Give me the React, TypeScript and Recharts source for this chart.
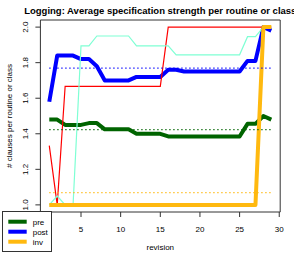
import { LineChart, Line, XAxis, YAxis, ReferenceLine, ReferenceArea } from "recharts"

const revisions = [1, 2, 3, 4, 5, 6, 7, 8, 9, 10, 11, 12, 13, 14, 15, 16, 17, 18, 19, 20, 21, 22, 23, 24, 25, 26, 27, 28, 29]

const pre = [1.48, 1.48, 1.45, 1.45, 1.45, 1.46, 1.46, 1.425, 1.425, 1.425, 1.425, 1.4, 1.4, 1.4, 1.4,
  1.385, 1.385, 1.385, 1.385, 1.385, 1.385, 1.385, 1.385, 1.385, 1.385, 1.456, 1.456, 1.5, 1.48]

const post = [1.58, 1.84, 1.84, 1.84, 1.82, 1.82, 1.78, 1.7, 1.7, 1.7, 1.7, 1.72, 1.72, 1.72, 1.72,
  1.76, 1.76, 1.75, 1.75, 1.75, 1.75, 1.75, 1.75, 1.75, 1.75, 1.81, 1.81, 2.0, 1.98]

const inv = [1, 1, 1, 1, 1, 1, 1, 1, 1, 1, 1, 1, 1, 1, 1, 1, 1, 1, 1, 1, 1, 1, 1, 1, 1, 1, 1, 2, 2]

const redSeries = [1.333, 1, 1.667, 1.667, 1.667, 1.667, 1.667, 1.667, 1.667, 1.667, 1.667, 1.667, 1.667, 1.667, 1.667,
  2, 2, 2, 2, 2, 2, 2, 2, 2, 2, 2, 2, 2, 2]

const aquaSeries = [1, 1.05, 1, 1, 1.894, 1.894, 1.95, 1.95, 1.95, 1.95, 1.95, 1.894, 1.894, 1.894, 1.894,
  1.894, 1.844, 1.844, 1.844, 1.844, 1.844, 1.844, 1.844, 1.844, 1.844, 1.946, 1.946, 2, 2]

// the 0 tick sits under the legend box, so it is left out
const xTicks = [5, 10, 15, 20, 25, 30]
const yTicks = [1.0, 1.2, 1.4, 1.6, 1.8, 2.0]

const legendItems = [
  { name: "pre", color: "#006400" },
  { name: "post", color: "#0000ff" },
  { name: "inv", color: "#ffb90f" },
]

const data = revisions.map((r, i) => ({
  revision: r,
  pre: pre[i],
  post: post[i],
  inv: inv[i],
  red: redSeries[i],
  aqua: aquaSeries[i],
}))

const mean = (a: number[]) => a.reduce((s, v) => s + v, 0) / a.length

const FONT = "'Liberation Sans', Arial, sans-serif"
const first = revisions[0]
const last = revisions[revisions.length - 1]

// plot box: x 40.4..280.2, y 20..212
const Y_AXIS_W = 30
const X_AXIS_H = 30

const XTick = (props: any) => (
  <text x={props.x} y={231.5} textAnchor="middle" fontSize={8} fontFamily={FONT} fill="#000">
    {props.payload.value}
  </text>
)

const YTick = (props: any) => (
  <text
    x={28.5}
    y={props.y}
    transform={`rotate(-90, 28.5, ${props.y})`}
    textAnchor="middle"
    fontSize={8}
    fontFamily={FONT}
    fill="#000"
  >
    {Number(props.payload.value).toFixed(1)}
  </text>
)

function avgLine(values: number[], color: string, key: string) {
  const m = mean(values)
  return (
    <ReferenceLine
      key={key}
      segment={[{ x: first, y: m }, { x: last, y: m }]}
      stroke={color}
      strokeWidth={1.3}
      strokeDasharray="1.3 2.7"
      ifOverflow="visible"
    />
  )
}

export default function App() {
  return (
    <div style={{ position: "absolute", left: 0, top: 0, width: 294, height: 254, background: "#fff" }}>
      <LineChart
        width={294}
        height={254}
        data={data}
        margin={{ top: 20, right: 13.8, bottom: 42 - X_AXIS_H, left: 40.4 - Y_AXIS_W }}
      >
        <XAxis
          dataKey="revision"
          type="number"
          domain={[-0.12, 30.12]}
          ticks={xTicks}
          height={X_AXIS_H}
          axisLine={false}
          tickSize={5}
          tickLine={{ stroke: "#333" }}
          tick={XTick}
          interval={0}
          allowDataOverflow
        />
        <YAxis
          type="number"
          domain={[0.96, 2.04]}
          ticks={yTicks}
          width={Y_AXIS_W}
          axisLine={false}
          tickSize={5}
          tickLine={{ stroke: "#333" }}
          tick={YTick}
          interval={0}
          allowDataOverflow
        />
        <ReferenceArea x1={-0.12} x2={30.12} y1={0.96} y2={2.04} fill="none" stroke="#333" strokeWidth={1} ifOverflow="visible" />
        <Line dataKey="pre" stroke="#006400" strokeWidth={4} dot={false} isAnimationActive={false} strokeLinejoin="round" />
        <Line dataKey="post" stroke="#0000ff" strokeWidth={4} dot={false} isAnimationActive={false} strokeLinejoin="round" />
        <Line dataKey="red" stroke="#ff0000" strokeWidth={1.2} dot={false} isAnimationActive={false} />
        <Line dataKey="aqua" stroke="#7fffd4" strokeWidth={1.2} dot={false} isAnimationActive={false} />
        <Line dataKey="inv" stroke="#ffb90f" strokeWidth={4} dot={false} isAnimationActive={false} strokeLinejoin="round" />
        {avgLine(pre, "#006400", "avg-pre")}
        {avgLine(post, "#0000ff", "avg-post")}
        {avgLine(inv, "#ffb90f", "avg-inv")}
      </LineChart>
      <svg width={294} height={254} style={{ position: "absolute", left: 0, top: 0, pointerEvents: "none" }}>
        <text x={160.3} y={13.5} textAnchor="middle" fontSize={9.5} fontWeight="bold" fontFamily={FONT}>
          Logging: Average specification strength per routine or class
        </text>
        <text x={160.3} y={250} textAnchor="middle" fontSize={8} fontFamily={FONT}>
          revision
        </text>
        <text x={12} y={116} transform="rotate(-90, 12, 116)" textAnchor="middle" fontSize={8} fontFamily={FONT}>
          # clauses per routine or class
        </text>
        <rect x={2.5} y={211.5} width={49} height={40} fill="#fff" stroke="#333" />
        {legendItems.map((it, i) => (
          <g key={it.name}>
            <line x1={8.3} x2={26.7} y1={221.7 + i * 10} y2={221.7 + i * 10} stroke={it.color} strokeWidth={4} />
            <text x={32.7} y={224.7 + i * 10} fontSize={8} fontFamily={FONT}>
              {it.name}
            </text>
          </g>
        ))}
      </svg>
    </div>
  )
}
